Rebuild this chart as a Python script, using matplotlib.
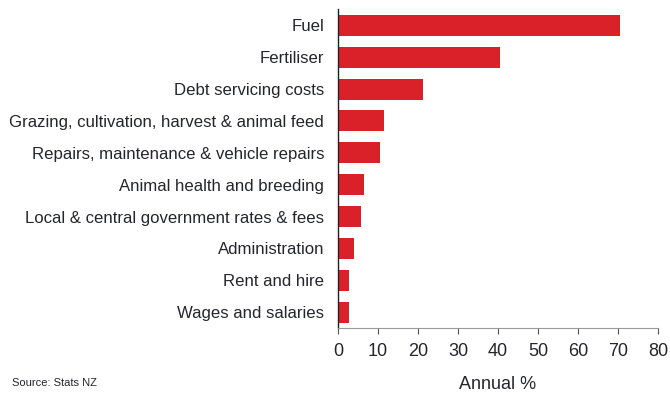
import matplotlib
matplotlib.use("Agg")
import matplotlib.pyplot as plt

categories = ["Fuel", "Fertiliser", "Debt servicing costs",
              "Grazing, cultivation, harvest & animal feed",
              "Repairs, maintenance & vehicle repairs",
              "Animal health and breeding",
              "Local & central government rates & fees",
              "Administration", "Rent and hire", "Wages and salaries"]
values = [70.6, 40.6, 21.3, 11.6, 10.5, 6.5, 5.8, 4.0, 2.8, 2.7]
xticks = [0, 10, 20, 30, 40, 50, 60, 70, 80]

plt.rcParams['font.family'] = ['Liberation Sans', 'DejaVu Sans']
text_col = '#25262b'

fig = plt.figure(figsize=(6.7, 3.94), dpi=100)
ax = fig.add_axes([0.5045, 0.1675, 0.4775, 0.8085])
ax.barh(range(len(categories)), values, height=0.66, color='#da2129')
ax.set_ylim(len(categories) - 0.5, -0.5)
ax.set_xlim(0, 80)
ax.set_yticks(range(len(categories)))
ax.set_yticklabels(categories, fontsize=12.1, color=text_col)
ax.set_xticks(xticks)
ax.set_xticklabels([str(t) for t in xticks], fontsize=13, color=text_col)
ax.tick_params(axis='y', length=0, pad=10)
ax.tick_params(axis='x', length=4, width=0.8, color='#555555', pad=7, direction='out')
for s in ['top', 'right']:
    ax.spines[s].set_visible(False)
ax.spines['left'].set_color('#231f20')
ax.spines['left'].set_linewidth(1.0)
ax.spines['bottom'].set_color('#999999')
ax.spines['bottom'].set_linewidth(0.8)
ax.set_xlabel("Annual %", fontsize=13, color=text_col, labelpad=11)
fig.text(0.018, 0.028, "Source: Stats NZ", fontsize=8, color=text_col, ha='left', va='center')
fig.savefig("out.png", dpi=100)
